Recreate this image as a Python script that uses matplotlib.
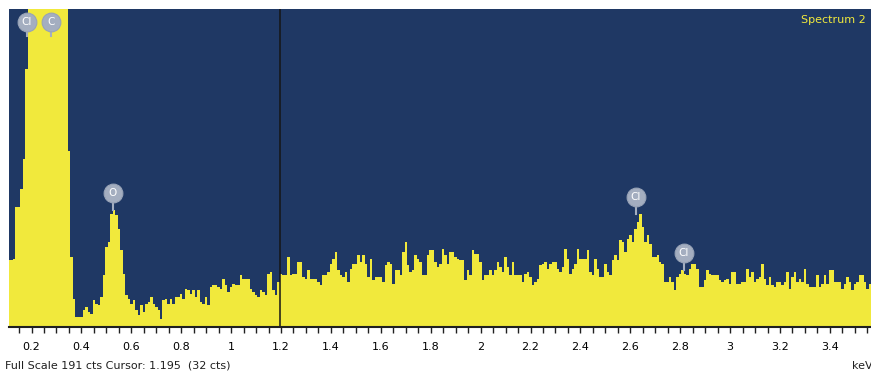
import numpy as np
import matplotlib
matplotlib.use("Agg")
import matplotlib.pyplot as plt
from matplotlib.transforms import offset_copy

# EDS spectrum, 10 eV channels centred on 0.11 ... 3.56 keV
channel_kev = np.linspace(0.11, 3.56, 346)
counts = [
    40, 40, 41, 72, 72, 83, 101, 155, 240, 320,
    410, 490, 560, 620, 660, 680, 670, 630, 560, 480,
    400, 320, 260, 210,
    106, 42, 17, 6, 6, 6, 10, 12, 9, 8,
    16, 14, 13, 18, 31, 48, 51, 68, 70, 67,
    59, 46, 32, 19, 17, 14, 16, 10, 7, 13,
    9, 14, 15, 18, 14, 12, 10, 5, 16, 17,
    14, 17, 14, 18, 18, 20, 17, 23, 22, 20,
    22, 18, 22, 15, 14, 18, 13, 24, 25, 25,
    24, 23, 29, 25, 21, 24, 26, 25, 25, 31,
    29, 29, 29, 23, 21, 19, 18, 22, 21, 19,
    32, 33, 22, 19, 27, 32, 31, 31, 42, 31,
    32, 32, 39, 39, 30, 29, 34, 29, 29, 29,
    27, 25, 31, 31, 33, 38, 41, 45, 34, 31,
    30, 33, 27, 35, 38, 38, 43, 39, 43, 38,
    30, 41, 28, 30, 30, 30, 27, 37, 39, 38,
    26, 34, 34, 31, 45, 51, 37, 33, 34, 43,
    41, 39, 31, 31, 43, 46, 46, 39, 36, 38,
    47, 43, 38, 45, 45, 42, 41, 40, 40, 28,
    34, 31, 46, 44, 44, 39, 28, 31, 31, 34,
    31, 34, 39, 36, 33, 42, 36, 31, 39, 31,
    31, 31, 27, 32, 33, 30, 25, 27, 29, 37,
    38, 39, 35, 38, 39, 39, 35, 33, 36, 47,
    41, 32, 35, 38, 47, 41, 41, 41, 46, 33,
    31, 41, 35, 30, 30, 38, 33, 31, 40, 43,
    40, 52, 51, 45, 53, 55, 51, 59, 63, 68,
    60, 51, 55, 50, 42, 42, 43, 39, 38, 27,
    27, 30, 27, 22, 30, 32, 34, 32, 31, 35,
    38, 38, 35, 24, 24, 28, 34, 32, 31, 31,
    31, 28, 27, 28, 29, 26, 33, 33, 26, 26,
    27, 27, 35, 30, 33, 27, 29, 30, 38, 29,
    25, 30, 25, 24, 27, 27, 25, 27, 33, 23,
    30, 33, 27, 29, 27, 35, 26, 24, 24, 24,
    31, 24, 26, 31, 26, 34, 34, 27, 27, 27,
    23, 26, 30, 27, 22, 26, 27, 31, 31, 27,
    23, 26,
]

# element line markers
line_symbols = ["Cl", "C", "O", "Cl", "Cl"]
line_kev = [0.18, 0.277, 0.525, 2.622, 2.815]

full_scale = 191
cursor_kev = 1.195
cursor_cts = 32
tick_kev = [0.2, 0.4, 0.6, 0.8, 1, 1.2, 1.4, 1.6, 1.8, 2, 2.2, 2.4,
            2.6, 2.8, 3, 3.2, 3.4]
tick_text = ["0.2", "0.4", "0.6", "0.8", "1", "1.2", "1.4", "1.6", "1.8",
             "2", "2.2", "2.4", "2.6", "2.8", "3", "3.2", "3.4"]

navy = "#1f3864"
yellow = "#f1e93c"
bubble = "#a4aec0"

fig = plt.figure(figsize=(8.71, 3.73), dpi=100)
ax = fig.add_axes([9 / 871, 46 / 373, 862 / 871, 318 / 373])
ax.set_facecolor(navy)

edges = np.append(channel_kev - 0.005, channel_kev[-1] + 0.005)
ax.stairs(counts, edges, fill=True, color=yellow, linewidth=0)

ax.set_xlim(0.1098, 3.5647)
ax.set_ylim(0, full_scale)

# cursor
ax.axvline(cursor_kev, color="#151515", lw=1.1)

# peak labels sit above the local maximum around each line energy
counts_arr = np.array(counts)
for sym, e in zip(line_symbols, line_kev):
    idx = int(np.argmin(np.abs(channel_kev - e)))
    y = counts_arr[max(idx - 2, 0):idx + 3].max()
    if y >= full_scale:
        y = full_scale
        c_off, s_from, s_to = -13, -13, -27
    else:
        c_off, s_from, s_to = 17, 0, 17
    stem_a = offset_copy(ax.transData, fig=fig, x=0, y=s_from, units="dots")
    stem_b = offset_copy(ax.transData, fig=fig, x=0, y=s_to, units="dots")
    p0 = stem_a.transform((e, y))
    p1 = stem_b.transform((e, y))
    ax.plot([p0[0], p1[0]], [p0[1], p1[1]], color=bubble, lw=1.5,
            transform=None, clip_on=False, zorder=4)
    tc = offset_copy(ax.transData, fig=fig, x=0, y=c_off, units="dots")
    ax.plot([e], [y], "o", ms=13.5, mfc=bubble, mec="#98a3b7", mew=0.8,
            transform=tc, clip_on=False, zorder=5)
    ax.text(e, y, sym, transform=tc, ha="center", va="center",
            color="white", fontsize=7.5, zorder=6)

# axis styling
for side in ["top", "left", "right"]:
    ax.spines[side].set_visible(False)
ax.spines["bottom"].set_linewidth(1.5)
ax.spines["bottom"].set_color("#202020")
ax.set_yticks([])
ax.set_xticks(tick_kev)
ax.set_xticklabels(tick_text)
ax.set_xticks(np.arange(0.15, 3.56, 0.05), minor=True)
ax.tick_params(axis="x", which="both", direction="out", length=4,
               width=1, color="#202020", labelsize=8, pad=7)

fig.text(5 / 871, 1 - 366 / 373,
         "Full Scale %d cts Cursor: %.3f  (%d cts)" % (full_scale, cursor_kev, cursor_cts),
         fontsize=8, va="center", ha="left", color="#202020")
fig.text(852 / 871, 1 - 366 / 373, "keV", fontsize=8, va="center",
         ha="left", color="#202020")
fig.text(801 / 871, 1 - 20 / 373, "Spectrum 2", fontsize=8, va="center",
         ha="left", color=yellow)

fig.savefig("out.png", dpi=100)
